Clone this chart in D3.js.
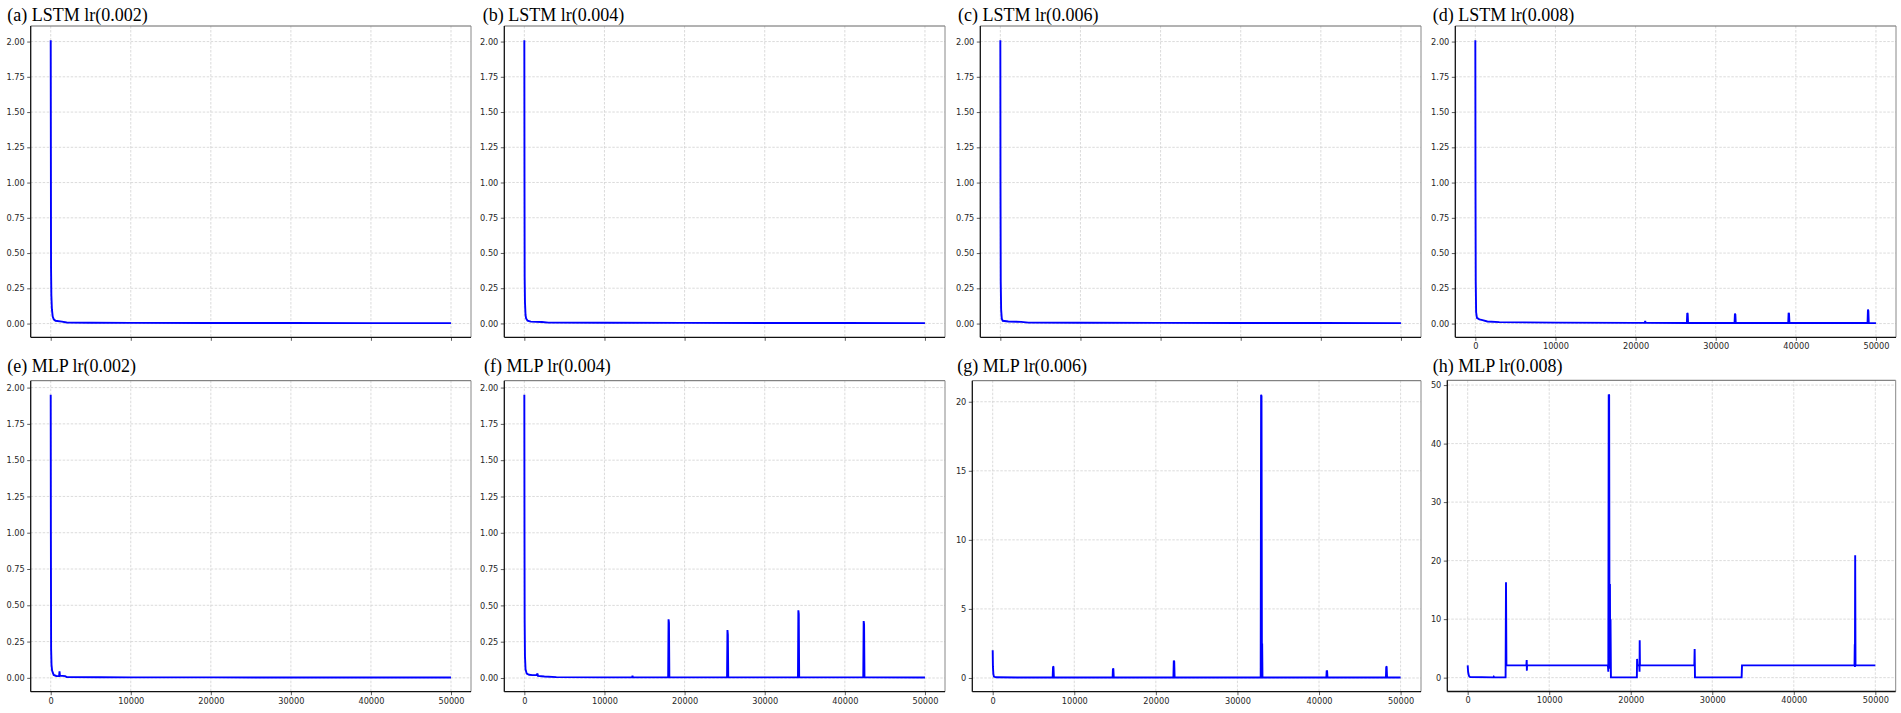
<!DOCTYPE html>
<html>
<head>
<meta charset="utf-8">
<script src="https://cdn.jsdelivr.net/npm/d3@7"></script>
<style>
  html, body { margin: 0; padding: 0; background: #fff; }
  svg { display: block; }
</style>
</head>
<body>
<svg id="chart" width="1901" height="713"></svg>
<script>
// ---------------- DATA (step, loss) ----------------
const lstm002 = [[0,2.01],[20,1.2],[40,0.4],[80,0.2],[150,0.1],[250,0.05],[380,0.03],[600,0.02],[1400,0.014],[2000,0.008],[5000,0.006],[10000,0.005],[20000,0.004],[30000,0.004],[40000,0.003],[50000,0.003]];
const lstm004 = [[0,2.01],[20,1.0],[40,0.33],[80,0.15],[150,0.06],[220,0.035],[400,0.02],[800,0.013],[2200,0.01],[3000,0.006],[10000,0.005],[20000,0.004],[30000,0.003],[40000,0.003],[50000,0.002]];
const lstm006 = [[0,2.01],[20,1.0],[50,0.3],[100,0.1],[180,0.035],[300,0.02],[1000,0.015],[2600,0.012],[3500,0.007],[10000,0.006],[20000,0.005],[30000,0.004],[40000,0.004],[50000,0.003]];
const lstm008 = [[0,2.01],[20,1.0],[50,0.3],[100,0.08],[200,0.04],[500,0.03],[900,0.025],[1500,0.015],[3000,0.01],[10000,0.007],[20000,0.005],[21150,0.005],[21200,0.018],[21250,0.005],[26400,0.004],[26450,0.075],[26500,0.07],[26550,0.004],[32350,0.004],[32400,0.071],[32450,0.065],[32500,0.004],[39050,0.004],[39100,0.076],[39150,0.07],[39200,0.004],[48950,0.004],[49000,0.1],[49050,0.09],[49100,0.004],[50000,0.003]];
const mlp002 = [[0,1.95],[20,1.0],[50,0.2],[100,0.09],[170,0.05],[370,0.02],[700,0.013],[1050,0.012],[1100,0.045],[1150,0.015],[1800,0.012],[2000,0.005],[6000,0.004],[10000,0.003],[20000,0.003],[30000,0.002],[40000,0.002],[50000,0.002]];
const mlp004 = [[0,1.95],[20,1.0],[40,0.4],[80,0.15],[150,0.06],[300,0.03],[600,0.022],[1000,0.02],[1500,0.02],[1650,0.03],[1700,0.015],[2500,0.01],[4000,0.006],[10000,0.004],[13450,0.004],[13500,0.015],[13550,0.004],[17950,0.004],[18000,0.404],[18050,0.38],[18100,0.004],[25300,0.004],[25350,0.33],[25400,0.3],[25450,0.004],[34150,0.004],[34200,0.466],[34250,0.44],[34300,0.004],[42300,0.004],[42350,0.392],[42400,0.37],[42450,0.004],[50000,0.003]];
const mlp006 = [[0,2.0],[30,0.8],[80,0.3],[150,0.1],[400,0.05],[3000,0.03],[7350,0.03],[7400,0.82],[7450,0.8],[7500,0.03],[14700,0.03],[14740,0.68],[14790,0.65],[14840,0.03],[22150,0.03],[22200,1.26],[22250,1.2],[22300,0.03],[32850,0.03],[32900,20.5],[32950,20.4],[33000,0.8],[33030,2.5],[33070,0.03],[40900,0.03],[40940,0.53],[40990,0.5],[41040,0.03],[48200,0.03],[48240,0.82],[48290,0.8],[48340,0.03],[50000,0.03]];
const mlp008 = [[0,2.1],[50,1.0],[150,0.3],[300,0.1],[3150,0.05],[3200,0.15],[3250,0.05],[4650,0.05],[4700,16.3],[4750,2.1],[7200,2.1],[7240,3.0],[7260,1.2],[7280,2.1],[17200,2.1],[17250,1.0],[17300,48.4],[17350,48.3],[17400,1.5],[17450,16.0],[17480,2.0],[17520,10.0],[17570,0.05],[20750,0.05],[20780,3.2],[20820,2.1],[21050,2.1],[21080,1.0],[21100,6.4],[21130,2.1],[27800,2.1],[27840,4.9],[27880,0.05],[33600,0.05],[33650,2.1],[47450,2.1],[47480,5.7],[47500,1.8],[47530,20.9],[47570,2.1],[50000,2.1]];

const titles = ["(a) LSTM lr(0.002)","(b) LSTM lr(0.004)","(c) LSTM lr(0.006)","(d) LSTM lr(0.008)",
                "(e) MLP lr(0.002)","(f) MLP lr(0.004)","(g) MLP lr(0.006)","(h) MLP lr(0.008)"];
const series = [lstm002, lstm004, lstm006, lstm008, mlp002, mlp004, mlp006, mlp008];
const xTicks = [0,10000,20000,30000,40000,50000];
const yTicksSmall = [0,0.25,0.5,0.75,1.0,1.25,1.5,1.75,2.0];
const yTicksG = [0,5,10,15,20];
const yTicksH = [0,10,20,30,40,50];
const panelYTicks = [yTicksSmall,yTicksSmall,yTicksSmall,yTicksSmall,yTicksSmall,yTicksSmall,yTicksG,yTicksH];
const showXLabels = [false,false,false,true,true,true,true,true];

// ---------------- LAYOUT ----------------
const layout = [
  {l:30.7,  r:471,    t:26,    b:337.3, tx:7.3,    ty:20.5},
  {l:504.3, r:945,    t:26,    b:337.3, tx:482.7,  ty:20.5},
  {l:980.3, r:1421,   t:26,    b:337.3, tx:958,    ty:20.5},
  {l:1455.3,r:1896,   t:26,    b:337.3, tx:1432.7, ty:20.5},
  {l:30.7,  r:471,    t:380.7, b:691.7, tx:7.3,    ty:372},
  {l:504.3, r:945,    t:380.7, b:691.7, tx:484,    ty:372},
  {l:972.3, r:1421,   t:380.7, b:691.7, tx:957.3,  ty:372},
  {l:1447.3,r:1895.7, t:380.3, b:691.5, tx:1432.7, ty:372}
];

const svg = d3.select("#chart");
const tickFont = "DejaVu Sans, sans-serif";

series.forEach((data, i) => {
  const L = layout[i];
  const g = svg.append("g");
  const x = d3.scaleLinear().domain([-2500, 52500]).range([L.l, L.r]);
  const ymin = d3.min(data, d => d[1]), ymax = d3.max(data, d => d[1]);
  const pad = (ymax - ymin) * 0.05;
  const y = d3.scaleLinear().domain([ymin - pad, ymax + pad]).range([L.b, L.t]);
  const yt = panelYTicks[i];
  const yFmt = (i === 6 || i === 7) ? d3.format("d") : d3.format(".2f");

  g.append("rect").attr("x", L.l).attr("y", L.t).attr("width", L.r - L.l).attr("height", L.b - L.t).attr("fill", "#fff");

  // grid
  g.append("g").selectAll("line").data(xTicks).join("line")
    .attr("x1", d => x(d)).attr("x2", d => x(d)).attr("y1", L.t).attr("y2", L.b)
    .attr("stroke", "#d2d2d2").attr("stroke-width", 0.8).attr("stroke-dasharray", "2.5,1.5");
  g.append("g").selectAll("line").data(yt).join("line")
    .attr("y1", d => y(d)).attr("y2", d => y(d)).attr("x1", L.l).attr("x2", L.r)
    .attr("stroke", "#d2d2d2").attr("stroke-width", 0.8).attr("stroke-dasharray", "2.5,1.5");

  // line
  const line = d3.line().x(d => x(d[0])).y(d => y(d[1]));
  g.append("path").datum(data).attr("d", line)
    .attr("fill", "none").attr("stroke", "#0000ff").attr("stroke-width", 1.9)
    .attr("stroke-linejoin", "miter").attr("stroke-miterlimit", 2).attr("stroke-linecap", "butt");

  // axes
  const xAxis = d3.axisBottom(x).tickValues(xTicks).tickSize(3.5).tickPadding(2.5)
    .tickFormat(showXLabels[i] ? d3.format("d") : () => "");
  const gx = g.append("g").attr("transform", `translate(0,${L.b})`).call(xAxis);
  const yAxis = d3.axisLeft(y).tickValues(yt).tickSize(3.5).tickPadding(2.5).tickFormat(yFmt);
  const gy = g.append("g").attr("transform", `translate(${L.l},0)`).call(yAxis);
  [gx, gy].forEach(a => {
    a.select(".domain").remove();
    a.selectAll(".tick line").attr("stroke", "#333").attr("stroke-width", 0.8);
    a.selectAll(".tick text").attr("font-family", tickFont).attr("font-size", "8.2px").attr("fill", "#262626");
  });

  // spines
  g.append("line").attr("x1", L.l).attr("x2", L.r).attr("y1", L.t).attr("y2", L.t).attr("stroke", "#666").attr("stroke-width", 1);
  g.append("line").attr("x1", L.r).attr("x2", L.r).attr("y1", L.t).attr("y2", L.b).attr("stroke", "#888").attr("stroke-width", 1);
  g.append("line").attr("x1", L.l).attr("x2", L.l).attr("y1", L.t).attr("y2", L.b).attr("stroke", "#111").attr("stroke-width", 1.3);
  g.append("line").attr("x1", L.l).attr("x2", L.r).attr("y1", L.b).attr("y2", L.b).attr("stroke", "#111").attr("stroke-width", 1.3);

  // title
  svg.append("text").attr("x", L.tx).attr("y", L.ty)
    .attr("font-family", "Liberation Serif, Times New Roman, serif").attr("font-size", "18px").attr("fill", "#000")
    .text(titles[i]);
});
</script>
</body>
</html>
